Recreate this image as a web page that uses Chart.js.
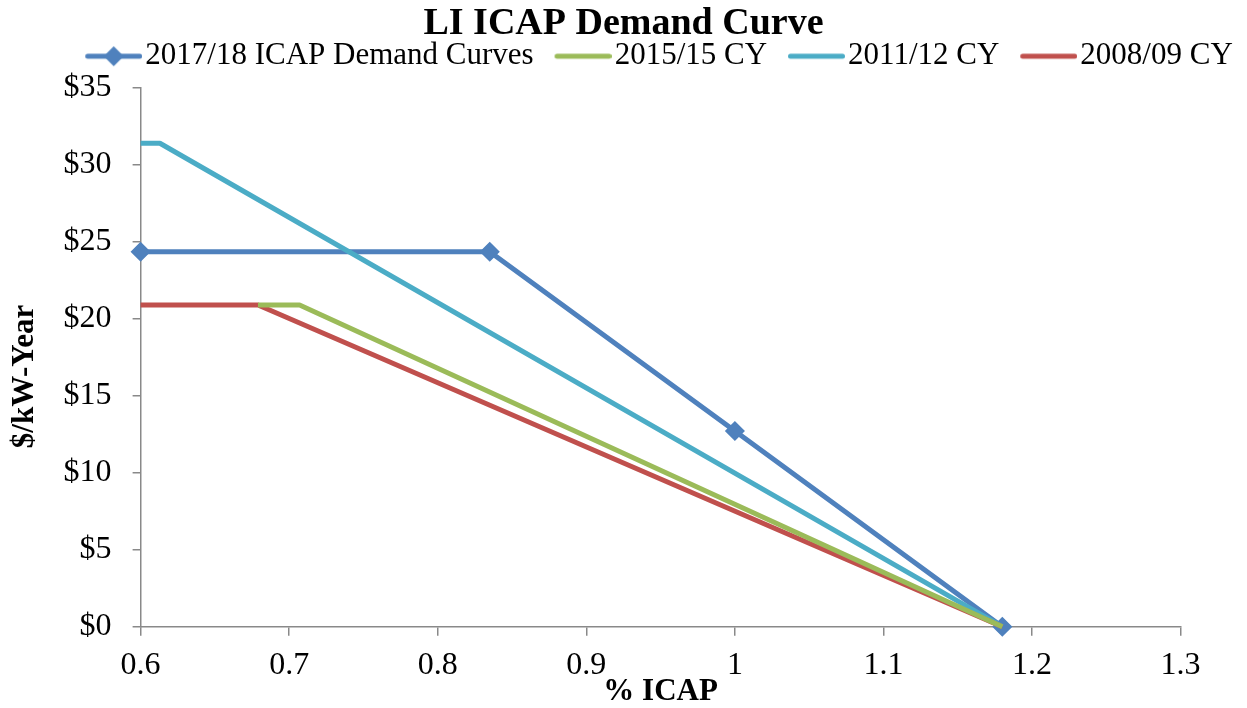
<!DOCTYPE html>
<html>
<head>
<meta charset="utf-8">
<title>LI ICAP Demand Curve</title>
<script src="https://cdn.jsdelivr.net/npm/chart.js@4.4.1/dist/chart.umd.min.js"></script>
<style>
    html, body { margin: 0; padding: 0; background: #fff; }
    #wrap { width: 1247px; height: 708px; position: relative; }
</style>
</head>
<body>
<div id="wrap"><canvas id="curveChart"></canvas></div>
<script>
const seriesNames = ['2017/18 ICAP Demand Curves', '2015/15 CY', '2011/12 CY', '2008/09 CY'];
const seriesColors = ['#4F81BD', '#9BBB59', '#4BACC6', '#C0504D'];

// % ICAP (x) and $/kW-Year (y)
const curve1718X = [0.6, 0.835, 1.0, 1.18];
const curve1718Y = [24.34, 24.34, 12.7, 0];
const curve1515X = [0.679, 0.707, 1.18];
const curve1515Y = [20.88, 20.88, 0];
const curve1112X = [0.6, 0.613, 1.18];
const curve1112Y = [31.38, 31.38, 0];
const curve0809X = [0.6, 0.679, 1.18];
const curve0809Y = [20.88, 20.88, 0];

const FONT = "'Liberation Serif', 'Times New Roman', serif";
const AXIS_GREY = '#898989';

const toPoints = (xs, ys) => xs.map((x, i) => ({ x: x, y: ys[i] }));

// legend icon: a short line, with a diamond for the marker series
const makeLegendIcon = (color, withDiamond) => {
    const c = document.createElement('canvas');
    c.width = 76;
    c.height = 26;
    const g = c.getContext('2d');
    const x1 = c.width - 54.5, x2 = c.width - 2.5, cy = c.height / 2;
    g.strokeStyle = color;
    g.lineWidth = 5;
    g.lineCap = 'round';
    g.beginPath();
    g.moveTo(x1, cy);
    g.lineTo(x2, cy);
    g.stroke();
    if (withDiamond) {
        const mx = (x1 + x2) / 2, r = 10;
        g.fillStyle = color;
        g.beginPath();
        g.moveTo(mx, cy - r);
        g.lineTo(mx + r, cy);
        g.lineTo(mx, cy + r);
        g.lineTo(mx - r, cy);
        g.closePath();
        g.fill();
    }
    return c;
};

const legendIcons = seriesColors.map((col, i) => makeLegendIcon(col, i === 0));

const lineSet = (label, color, points, order, marker) => ({
    label: label,
    data: points,
    borderColor: color,
    backgroundColor: color,
    borderWidth: 5,
    borderJoinStyle: 'round',
    tension: 0,
    order: order,
    clip: false,
    pointStyle: 'rectRot',
    pointRadius: marker ? 9 : 0,
    pointHoverRadius: marker ? 9 : 0,
    pointBackgroundColor: color,
    pointBorderColor: color,
    pointBorderWidth: 1.5
});

Chart.defaults.color = '#000';
Chart.defaults.font.family = FONT;

const ctx = document.getElementById('curveChart').getContext('2d');
const curveChart = new Chart(ctx, {
    type: 'line',
    data: {
        datasets: [
            lineSet(seriesNames[0], seriesColors[0], toPoints(curve1718X, curve1718Y), 3, true),
            lineSet(seriesNames[1], seriesColors[1], toPoints(curve1515X, curve1515Y), 0, false),
            lineSet(seriesNames[2], seriesColors[2], toPoints(curve1112X, curve1112Y), 2, false),
            lineSet(seriesNames[3], seriesColors[3], toPoints(curve0809X, curve0809Y), 1, false)
        ]
    },
    options: {
        responsive: true,
        maintainAspectRatio: false,
        animation: false,
        layout: { padding: 0 },
        plugins: {
            title: {
                display: true,
                text: 'LI ICAP Demand Curve',
                color: '#000',
                font: { family: FONT, size: 38, weight: 'bold', lineHeight: 1 },
                padding: { top: 5, bottom: -16.5 }
            },
            legend: {
                display: true,
                position: 'top',
                align: 'end',
                labels: {
                    usePointStyle: true,
                    pointStyleWidth: 51.3,
                    padding: 14.2,
                    color: '#000',
                    font: { family: FONT, size: 31 },
                    generateLabels: chart => chart.data.datasets.map((ds, i) => ({
                        text: ds.label,
                        fillStyle: ds.borderColor,
                        strokeStyle: ds.borderColor,
                        lineWidth: 0,
                        hidden: !chart.isDatasetVisible(i),
                        datasetIndex: i,
                        pointStyle: legendIcons[i],
                        fontColor: '#000'
                    }))
                }
            },
            tooltip: { enabled: false }
        },
        scales: {
            x: {
                type: 'linear',
                position: 'bottom',
                min: 0.6,
                max: 1.3,
                ticks: {
                    stepSize: 0.1,
                    padding: 11,
                    color: '#000',
                    font: { family: FONT, size: 32 },
                    callback: v => String(Number(v.toFixed(1)))
                },
                grid: { drawOnChartArea: false, drawTicks: true, tickLength: 9, color: AXIS_GREY, lineWidth: 1.5 },
                border: { display: true, color: AXIS_GREY, width: 1.5 },
                title: {
                    display: true,
                    text: '% ICAP',
                    color: '#000',
                    font: { family: FONT, size: 31, weight: 'bold', lineHeight: 1 },
                    padding: { top: 0, bottom: 0.5 }
                },
                afterFit: s => { s.height = 81.3; }
            },
            y: {
                type: 'linear',
                position: 'left',
                min: 0,
                max: 35,
                ticks: {
                    stepSize: 5,
                    padding: 21,
                    color: '#000',
                    font: { family: FONT, size: 32 },
                    callback: v => '$' + v
                },
                grid: { drawOnChartArea: false, drawTicks: true, tickLength: 8, color: AXIS_GREY, lineWidth: 1.5 },
                border: { display: true, color: AXIS_GREY, width: 1.5 },
                title: {
                    display: true,
                    text: '$/kW-Year     ',
                    color: '#000',
                    font: { family: FONT, size: 31, weight: 'bold', lineHeight: 1 },
                    padding: { top: 9.5, bottom: 0 }
                },
                afterFit: s => { s.width = 140.6; }
            },
            // empty spacer axes that set the gap above and right of the plot
            xTop: {
                type: 'linear',
                position: 'top',
                ticks: { display: false },
                grid: { display: false, drawTicks: false },
                border: { display: false },
                afterFit: s => { s.height = 5.8; }
            },
            yRight: {
                type: 'linear',
                position: 'right',
                ticks: { display: false },
                grid: { display: false, drawTicks: false },
                border: { display: false },
                afterFit: s => { s.width = 66.4; }
            }
        }
    }
});
</script>
</body>
</html>
